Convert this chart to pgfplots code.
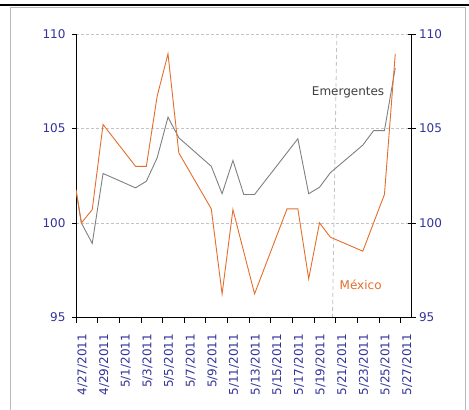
\documentclass[border=0pt]{standalone}
\usepackage{pgfplots}
\pgfplotsset{compat=1.18}
\usepackage{fontspec}
\setmainfont{DejaVu Sans}
\definecolor{tickblue}{RGB}{51,51,153}
\definecolor{mexorange}{RGB}{230,110,45}
\definecolor{emgray}{RGB}{128,128,128}
\definecolor{emtext}{RGB}{64,64,64}
\definecolor{gridgray}{RGB}{195,195,195}
\begin{document}
\begin{tikzpicture}[x=1pt,y=1pt]
\useasboundingbox (0,0) rectangle (469,-410);
\fill[white] (0,0) rectangle (469,-410);
\draw[gray!55, line width=0.8pt] (10,-7) rectangle (465,-430);
\draw[black, line width=1.2pt] (0,-5) -- (469,-5);
\pgfplotsset{every axis/.append style={
  scale only axis, width=335.5pt, height=283.5pt,
  xmin=0, xmax=31, ymin=95, ymax=110,
  at={(76pt,-317.5pt)}, anchor=south west,
  font=\fontsize{12}{14}\selectfont,
  /pgf/number format/assume math mode=true,
  axis line style={-, black, line width=0.8pt},
  tick style={black, line width=0.8pt},
}}
% main axis: grid, data, left y axis, x labels
\begin{axis}[
  axis x line*=bottom, axis y line*=left,
  ytick={95,100,105,110},
  ymajorgrids,
  grid style={gridgray, dash pattern=on 3pt off 2pt, line width=0.7pt},
  xtick={0.6,2.6,4.6,6.6,8.6,10.6,12.6,14.6,16.6,18.6,20.6,22.6,24.6,26.6,28.6,30.6},
  xticklabels={4/27/2011,4/29/2011,5/1/2011,5/3/2011,5/5/2011,5/7/2011,5/9/2011,5/11/2011,5/13/2011,5/15/2011,5/17/2011,5/19/2011,5/21/2011,5/23/2011,5/25/2011,5/27/2011},
  x tick style={draw=none},
  xticklabel style={rotate=90, anchor=east, text=tickblue},
  xticklabel shift=9pt,
  yticklabel style={text=tickblue, xshift=-3pt},
  tick align=outside, major tick length=4pt,
]
\draw[gridgray, dash pattern=on 4pt off 3pt, line width=0.8pt] (axis cs:24.1,110) -- (axis cs:23.7,95);
\addplot[emgray, line width=0.9pt] coordinates {
(0,101.72) (0.5,100.0) (1.5,98.92) (2.5,102.62) (5.5,101.86) (6.5,102.21) (7.5,103.45) (8.5,105.6) (9.5,104.51) (12.5,103.0) (13.5,101.55) (14.5,103.31) (15.5,101.51) (16.5,101.51) (20.5,104.46) (21.5,101.55) (22.5,101.89) (23.5,102.66) (26.5,104.12) (27.5,104.89) (28.5,104.89) (29.5,108.21)
};
\addplot[mexorange, line width=0.9pt] coordinates {
(0,101.77) (0.5,100.0) (1.5,100.71) (2.5,105.21) (5.5,103.0) (6.5,103.0) (7.5,106.71) (8.5,108.95) (9.5,103.71) (12.5,100.75) (13.5,96.25) (14.5,100.71) (16.5,96.25) (19.5,100.75) (20.5,100.75) (21.5,97.05) (22.5,100.01) (23.5,99.25) (26.5,98.51) (28.5,101.51) (29.5,108.95)
};
\node[text=emtext] at (axis cs:25.14,106.92) {Emergentes};
\node[text=mexorange] at (axis cs:26.3,96.75) {México};
\end{axis}
% x tick marks
\begin{axis}[
  axis y line=none, axis x line*=bottom,
  xtick={0,2,4,6,8,10,12,14,16,18,20,22,24,26,28,30},
  xticklabels={},
  tick align=outside, major tick length=5pt,
]
\end{axis}
% right y axis
\begin{axis}[
  axis x line=none, axis y line*=right,
  ytick={95,100,105,110},
  yticklabel style={text=tickblue},
  tick align=center, major tick length=8pt,
]
\end{axis}
\end{tikzpicture}
\end{document}
